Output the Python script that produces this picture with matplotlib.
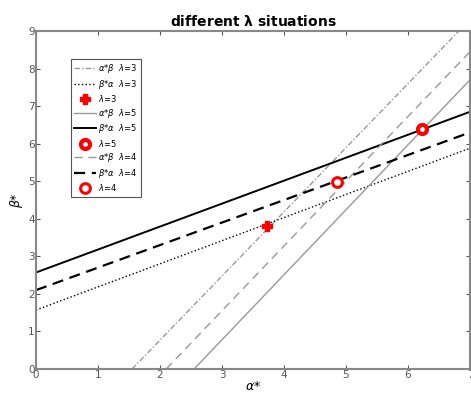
import numpy as np
import matplotlib
matplotlib.use('Agg')
import matplotlib.pyplot as plt

# lineas "beta*alpha" (casi planas): x en [0, 7]
x_plano = [0, 7]
beta_alpha_l3 = [1.57, 5.88]
beta_alpha_l5 = [2.57, 6.85]
beta_alpha_l4 = [2.10, 6.30]

# lineas "alpha*beta" (empinadas): puntos (x, y)
alpha_beta_l3_x = [1.55, 6.82]
alpha_beta_l3_y = [0, 9]
alpha_beta_l5_x = [2.55, 7]
alpha_beta_l5_y = [0, 7.70]
alpha_beta_l4_x = [2.10, 7]
alpha_beta_l4_y = [0, 8.45]

# puntos de interseccion
punto_l3 = (3.72, 3.82)
punto_l5 = (6.22, 6.40)
punto_l4 = (4.86, 4.97)

fig = plt.figure(figsize=(4.71, 3.98), dpi=100)
ax = fig.add_axes([0.0764, 0.0729, 0.9214, 0.849])

gris = '#999999'
ax.plot(alpha_beta_l3_x, alpha_beta_l3_y, linestyle=(0, (4, 1.5, 1, 1.5)), color=gris, lw=1.0, label=r'$\alpha$*$\beta$  $\lambda$=3')
ax.plot(x_plano, beta_alpha_l3, linestyle=':', color='black', lw=1.0, label=r'$\beta$*$\alpha$  $\lambda$=3')
ax.plot(*punto_l3, marker='P', color='red', markersize=6.5, linestyle='none', label=r'$\lambda$=3')
ax.plot(alpha_beta_l5_x, alpha_beta_l5_y, linestyle='-', color=gris, lw=1.0, label=r'$\alpha$*$\beta$  $\lambda$=5')
ax.plot(x_plano, beta_alpha_l5, linestyle='-', color='black', lw=1.4, label=r'$\beta$*$\alpha$  $\lambda$=5')
ax.plot(*punto_l5, marker='o', markerfacecolor='white', markeredgecolor='red', markeredgewidth=3,
        markersize=6.5, linestyle='none', label=r'$\lambda$=5')
ax.plot(alpha_beta_l4_x, alpha_beta_l4_y, linestyle=(0, (6, 4)), color=gris, lw=1.0, label=r'$\alpha$*$\beta$  $\lambda$=4')
ax.plot(x_plano, beta_alpha_l4, linestyle=(0, (5, 3)), color='black', lw=1.6, label=r'$\beta$*$\alpha$  $\lambda$=4')
ax.plot(*punto_l4, marker='o', markerfacecolor='white', markeredgecolor='red', markeredgewidth=2.2,
        markersize=7, linestyle='none', label=r'$\lambda$=4')

ax.set_xlim(0, 7)
ax.set_ylim(0, 9)
ax.set_xticks(range(0, 8))
ax.set_yticks(range(0, 10))
ax.tick_params(direction='in', top=True, right=True, labelsize=7.5, length=3, colors='#555555', pad=1)
for s in ax.spines.values():
    s.set_color('#888888')
    s.set_linewidth(1.5)

ax.set_xlabel(r'$\alpha$*', fontsize=9, labelpad=0)
ax.set_ylabel(r'$\beta$*', fontsize=9, labelpad=2)
ax.set_title(r'different $\mathbf{\lambda}$ situations', fontsize=10, fontweight='bold', pad=4)

leg = ax.legend(loc='upper left', bbox_to_anchor=(0.07, 0.93), fontsize=6, handlelength=2.6,
                labelspacing=0.3, borderpad=0.4, handletextpad=0.3, fancybox=False,
                frameon=True, framealpha=1)
leg.get_frame().set_edgecolor('#555555')
leg.get_frame().set_linewidth(0.8)

plt.savefig('out.png', dpi=100)
